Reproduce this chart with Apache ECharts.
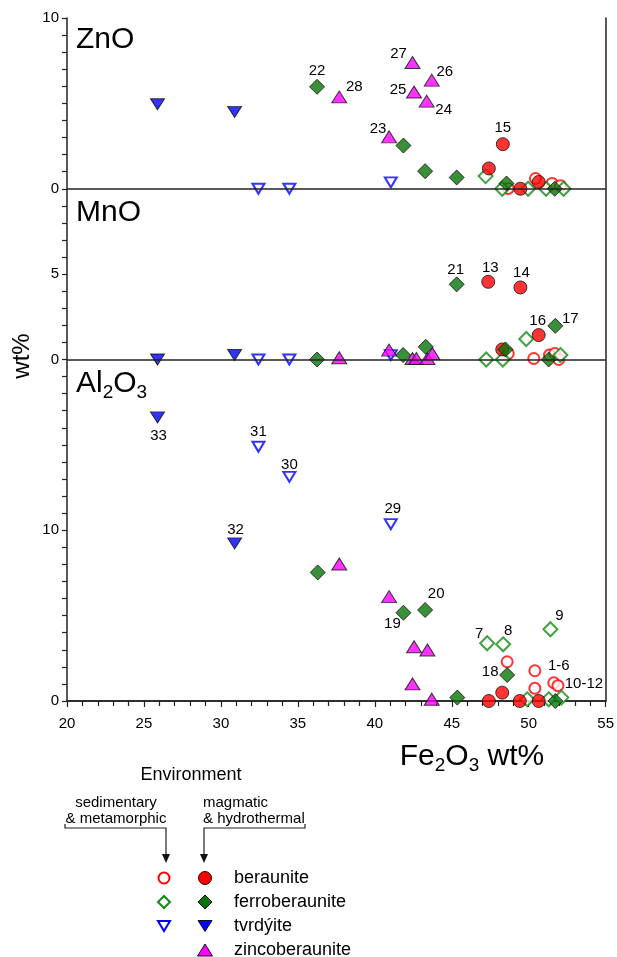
<!DOCTYPE html>
<html>
<head>
<meta charset="utf-8">
<script src="https://cdn.jsdelivr.net/npm/echarts@6/dist/echarts.min.js"></script>
<style>
html,body{margin:0;padding:0;background:#fff}
#chart{width:617px;height:957px}
</style>
</head>
<body>
<div id="chart"></div>
<script>
// points are [Fe2O3 wt%, oxide wt%, sample tag]
var berauniteSedZnO = [[48.67,0.02],[50.44,0.6],[51.52,0.31],[52.06,0.18]]
var berauniteSedMnO = [[48.67,0.35],[50.33,0.06],[51.35,0.26],[51.69,0.35],[51.95,0]]
var berauniteSedAl = [[48.6,2.3],[50.4,1.77,'1-6'],[50.4,0.74],[51.63,1.07],[51.9,0.9,'10-12']]

var berauniteMagZnO = [[47.41,1.19],[48.32,2.61,'15'],[49.46,0],[50.65,0.4]]
var berauniteMagMnO = [[47.37,4.55,'13'],[48.28,0.59],[49.46,4.22,'14'],[50.65,1.43,'16']]
var berauniteMagAl = [[47.41,0],[48.28,0.49],[49.42,0],[50.65,0]]

var ferroSedZnO = [[47.2,0.74],[48.28,0],[49.96,0],[51.13,0],[52.27,0]]
var ferroSedMnO = [[47.24,0],[48.32,0],[49.84,1.2],[52.06,0.26]]
var ferroSedAl = [[47.3,3.38,'7'],[48.34,3.32,'8'],[51.41,4.2,'9'],[49.9,0.1],[51.3,0.1],[52.12,0.2]]

var ferroMagZnO = [[36.25,5.97,'22'],[41.86,2.53],[43.27,1.03],[45.32,0.66],[48.56,0.31],[51.69,0]]
var ferroMagMnO = [[36.25,0],[41.84,0.26],[43.31,0.74],[45.32,4.4,'21'],[48.49,0.59],[51.73,1.97,'17'],[51.3,0]]
var ferroMagAl = [[36.29,7.53],[41.86,5.17,'19'],[43.27,5.33,'20'],[45.36,0.2],[48.6,1.52,'18'],[51.73,0]]

var tvrdSedZnO = [[32.44,0],[34.45,0],[41.04,0.37]]
var tvrdSedMnO = [[32.44,0],[34.45,0],[41.04,0.26]]
var tvrdSedAl = [[32.44,14.89,'31'],[34.45,13.13,'30'],[41.04,10.36,'29']]

var tvrdMagZnO = [[25.88,4.95],[30.89,4.5]]
var tvrdMagMnO = [[25.88,0],[30.89,0.26]]
var tvrdMagAl = [[25.88,16.61,'33'],[30.89,9.23,'32']]

var zincoMagZnO = [[37.69,5.38,'28'],[42.45,7.39,'27'],[43.7,6.36,'26'],[42.55,5.67,'25'],[43.37,5.13,'24'],[40.93,3.04,'23']]
var zincoMagMnO = [[37.69,0.1],[40.93,0.55],[42.45,0.06],[42.7,0.06],[43.42,0.06],[43.74,0.35]]
var zincoMagAl = [[37.69,8.02],[40.93,6.11],[42.55,3.18],[43.42,2.99],[42.45,1.0],[43.7,0.1]]

// stacked panels share one y axis: Al2O3 0-20, MnO 20-30, ZnO 30-40
var panelShift = {zno: 30, mno: 20, al: 0}
var yTickValues = [0, 10, 20, 25, 30, 40]
var yTickLabels = ['0', '10', '0', '5', '0', '10']
var legendNames = ['beraunite', 'ferroberaunite', 'tvrdýite', 'zincoberaunite']

var tagOffset = {
  '15':[0,-16], '22':[0,-16], '28':[15,-10], '27':[-14,-9], '26':[13,-8], '25':[-16,-2], '24':[17,9], '23':[-11,-8],
  '21':[-1,-15], '13':[2,-14], '14':[1,-15], '16':[-1,-14], '17':[15,-7],
  '33':[1,18], '31':[0,-15], '30':[0,-12], '32':[1,-14], '29':[2,-15],
  '19':[-11,11], '20':[11,-16], '7':[-8,-9], '8':[5,-13], '9':[9,-13], '18':[-17,-3], '1-6':[24,-5], '10-12':[26,-2]
}

var FONT = 'Arial, "Liberation Sans", sans-serif'
var INK = '#000'

function panelPoints(arr, shift) {
  return arr.map(function (p) {
    var item = {value: [p[0], p[1] + shift]}
    if (p[2]) {
      item.label = {
        show: true, formatter: p[2], position: 'inside', offset: tagOffset[p[2]],
        color: INK, fontSize: 15, fontFamily: FONT, textBorderWidth: 0, opacity: 1
      }
    }
    return item
  })
}

function allPanels(zno, mno, al) {
  return panelPoints(zno, panelShift.zno)
    .concat(panelPoints(mno, panelShift.mno))
    .concat(panelPoints(al, panelShift.al))
}

var groups = [
  {name: 'beraunite sed', symbol: 'circle', size: 11, rotate: 0,
   style: {color: '#fff', borderColor: '#ff0000', borderWidth: 2},
   data: allPanels(berauniteSedZnO, berauniteSedMnO, berauniteSedAl)},
  {name: 'ferroberaunite sed', symbol: 'diamond', size: 14, rotate: 0,
   style: {color: '#fff', borderColor: '#138a13', borderWidth: 2},
   data: allPanels(ferroSedZnO, ferroSedMnO, ferroSedAl)},
  {name: 'tvrdyite sed', symbol: 'triangle', size: [12, 10], rotate: 180,
   style: {color: '#fff', borderColor: '#0000ff', borderWidth: 2},
   data: allPanels(tvrdSedZnO, tvrdSedMnO, tvrdSedAl)},
  {name: 'beraunite', symbol: 'circle', size: 13, rotate: 0,
   style: {color: '#ff0000', borderColor: '#111', borderWidth: 1},
   data: allPanels(berauniteMagZnO, berauniteMagMnO, berauniteMagAl)},
  {name: 'ferroberaunite', symbol: 'diamond', size: 15, rotate: 0,
   style: {color: '#087408', borderColor: '#111', borderWidth: 1},
   data: allPanels(ferroMagZnO, ferroMagMnO, ferroMagAl)},
  {name: 'tvrdýite', symbol: 'triangle', size: [14, 11], rotate: 180,
   style: {color: '#0000ff', borderColor: '#111', borderWidth: 1},
   data: allPanels(tvrdMagZnO, tvrdMagMnO, tvrdMagAl)},
  {name: 'zincoberaunite', symbol: 'triangle', size: [15, 12], rotate: 0,
   style: {color: '#ff00ff', borderColor: '#111', borderWidth: 1},
   data: allPanels(zincoMagZnO, zincoMagMnO, zincoMagAl)}
]

var series = [{
  type: 'scatter', name: 'dividers', data: [], z: 1, silent: true,
  markLine: {
    silent: true, symbol: 'none', label: {show: false}, animation: false,
    lineStyle: {color: '#222', width: 1.5, type: 'solid'},
    data: [{yAxis: panelShift.mno}, {yAxis: panelShift.zno}]
  }
}]
groups.forEach(function (g) {
  series.push({
    type: 'scatter', name: g.name, z: 3, silent: true,
    symbol: g.symbol, symbolSize: g.size, symbolRotate: g.rotate,
    itemStyle: g.style, emphasis: {disabled: true},
    data: g.data
  })
})

function sub(text, x, y, size, align) {
  return {
    type: 'text', x: x, y: y, z: 10,
    style: {
      text: text, align: align || 'left', verticalAlign: 'middle', fill: INK,
      rich: {
        a: {fontSize: size, fontFamily: FONT, color: INK},
        s: {fontSize: Math.round(size * 0.63), fontFamily: FONT, color: INK, padding: [Math.round(size * 0.6), 0, 0, 0]}
      }
    }
  }
}

function plainText(text, x, y, size, align) {
  return {
    type: 'text', x: x, y: y, z: 10,
    style: {text: text, font: size + 'px ' + FONT, fill: INK, align: align || 'left', verticalAlign: 'middle', lineHeight: size + 1}
  }
}

var graphics = [
  plainText('ZnO', 76, 40, 30),
  plainText('MnO', 76, 213, 30),
  sub('{a|Al}{s|2}{a|O}{s|3}', 76, 384, 30),
  sub('{a|Fe}{s|2}{a|O}{s|3}{a| wt%}', 472, 757, 30, 'center'),
  {type: 'text', x: 22, y: 356, rotation: Math.PI / 2, z: 10,
   style: {text: 'wt%', font: '24px ' + FONT, fill: INK, align: 'center', verticalAlign: 'middle'}},
  plainText('Environment', 191, 775, 18, 'center'),
  plainText('sedimentary\n& metamorphic', 116, 811, 15, 'center'),
  plainText('magmatic\n& hydrothermal', 203, 811, 15),
  {type: 'polyline', shape: {points: [[65, 824], [65, 828], [166, 828], [166, 856]]}, style: {stroke: '#222', lineWidth: 1.2, fill: null}},
  {type: 'polyline', shape: {points: [[305, 824], [305, 828], [204, 828], [204, 856]]}, style: {stroke: '#222', lineWidth: 1.2, fill: null}},
  {type: 'polygon', shape: {points: [[162, 854], [170, 854], [166, 863]]}, style: {fill: '#111'}},
  {type: 'polygon', shape: {points: [[200, 854], [208, 854], [204, 863]]}, style: {fill: '#111'}},
  {type: 'circle', shape: {cx: 164, cy: 878, r: 5.5}, style: {fill: '#fff', stroke: '#ff0000', lineWidth: 2}},
  {type: 'circle', shape: {cx: 205, cy: 878, r: 6.5}, style: {fill: '#ff0000', stroke: '#111', lineWidth: 1}},
  {type: 'polygon', shape: {points: [[164, 896], [170, 902], [164, 908], [158, 902]]}, style: {fill: '#fff', stroke: '#138a13', lineWidth: 2}},
  {type: 'polygon', shape: {points: [[205, 895], [212, 902], [205, 909], [198, 902]]}, style: {fill: '#087408', stroke: '#111', lineWidth: 1}},
  {type: 'polygon', shape: {points: [[158, 921], [170, 921], [164, 931]]}, style: {fill: '#fff', stroke: '#0000ff', lineWidth: 2}},
  {type: 'polygon', shape: {points: [[198, 920.5], [212, 920.5], [205, 931.5]]}, style: {fill: '#0000ff', stroke: '#111', lineWidth: 1}},
  {type: 'polygon', shape: {points: [[197.5, 956], [212.5, 956], [205, 944]]}, style: {fill: '#ff00ff', stroke: '#111', lineWidth: 1}}
]
legendNames.forEach(function (n, i) {
  graphics.push(plainText(n, 234, 878 + i * 24, 18))
})

var axisLine = {show: true, lineStyle: {color: '#222', width: 1.5}}

var option = {
  animation: false,
  backgroundColor: '#fff',
  grid: {left: 67, right: 10, top: 18, bottom: 256},
  xAxis: [{
    type: 'value', min: 20, max: 55, interval: 5, position: 'bottom',
    axisLine: axisLine,
    axisTick: {show: true, inside: false, length: 6, lineStyle: {color: '#222', width: 1.2}},
    minorTick: {show: true, splitNumber: 5, length: 5, lineStyle: {color: '#222', width: 1.2}},
    axisLabel: {color: INK, fontSize: 15, fontFamily: FONT, margin: 15},
    splitLine: {show: false}
  }, {
    type: 'value', min: 20, max: 55, position: 'top',
    axisLine: axisLine, axisTick: {show: false}, axisLabel: {show: false}, splitLine: {show: false}
  }],
  yAxis: [{
    type: 'value', min: 0, max: 40, interval: 5, position: 'left',
    axisLine: axisLine,
    axisTick: {show: true, inside: false, length: 5, lineStyle: {color: '#222', width: 1.2}},
    minorTick: {show: true, splitNumber: 5, length: 5, lineStyle: {color: '#222', width: 1.2}},
    axisLabel: {
      color: INK, fontSize: 15, fontFamily: FONT, margin: 8,
      formatter: function (v) {
        var i = yTickValues.indexOf(v)
        return i >= 0 ? yTickLabels[i] : ''
      }
    },
    splitLine: {show: false}
  }, {
    type: 'value', min: 0, max: 40, position: 'right',
    axisLine: axisLine, axisTick: {show: false}, axisLabel: {show: false}, splitLine: {show: false}
  }],
  graphic: graphics,
  series: series
}

var myChart = echarts.init(document.getElementById('chart'))
myChart.setOption(option)
</script>
</body>
</html>
